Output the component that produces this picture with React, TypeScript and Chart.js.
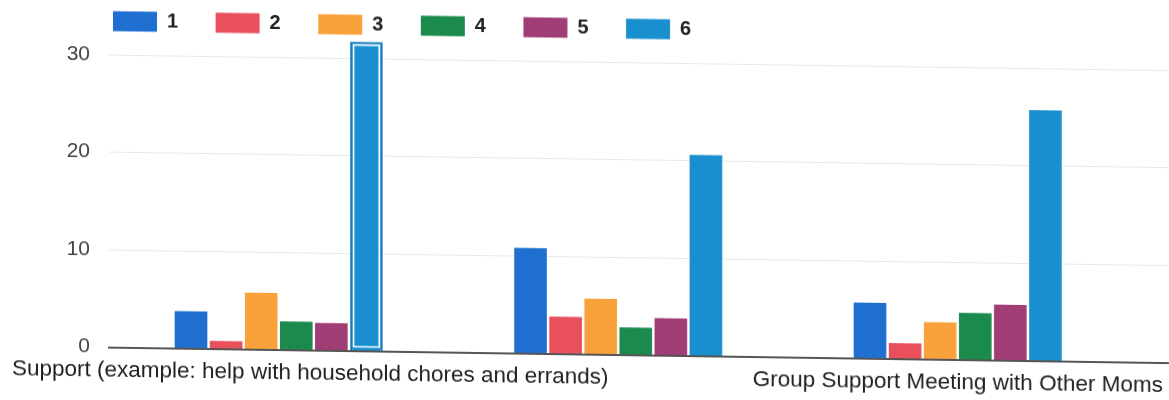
import React, { useEffect, useRef } from 'react';
import { Chart, registerables } from 'chart.js';

Chart.register(...registerables);

// Category labels (the middle group carries no label text)
const categories = [
  'Support (example: help with household chores and errands)',
  '',
  'Group Support Meeting with Other Moms',
];

const seriesNames = ['1', '2', '3', '4', '5', '6'];

const series1 = [3.8, 10.8, 5.7];
const series2 = [0.8, 3.8, 1.6];
const series3 = [5.8, 5.7, 3.8];
const series4 = [2.9, 2.8, 4.8];
const series5 = [2.8, 3.8, 5.7];
const series6 = [31.7, 20.6, 25.7];

const yTicks = [0, 10, 20, 30];

const seriesColors = ['#1f6fd1', '#e8505b', '#f9a23c', '#1b8a4c', '#a13d75', '#1a8fcf'];

// Bar shown in its focused state (dataset index, category index)
const focused = { dataset: 5, index: 0 };

const FONT = "'Liberation Sans', Arial, sans-serif";

const legendPlugin = {
  id: 'topLegend',
  afterDraw(chart: any) {
    const { ctx, chartArea } = chart;
    const boxW = 44;
    const boxH = 20;
    const gap = 10;
    const spacing = 37.5;
    const cy = 19.5;
    let x = chartArea.left + 4;
    ctx.save();
    ctx.font = `bold 20px ${FONT}`;
    ctx.textBaseline = 'middle';
    ctx.textAlign = 'left';
    chart.data.datasets.forEach((ds: any) => {
      ctx.fillStyle = ds.backgroundColor;
      ctx.fillRect(x, cy - boxH / 2, boxW, boxH);
      ctx.fillStyle = '#222';
      ctx.fillText(ds.label, x + boxW + gap, cy);
      x += boxW + gap + ctx.measureText(ds.label).width + spacing;
    });
    ctx.restore();
  },
};

const categoryLabelPlugin = {
  id: 'categoryLabels',
  afterDraw(chart: any) {
    const { ctx, chartArea, width } = chart;
    const scale = chart.scales.x;
    const margin = 12;
    ctx.save();
    ctx.font = `22.5px ${FONT}`;
    ctx.fillStyle = '#1e1e1e';
    ctx.textBaseline = 'middle';
    ctx.textAlign = 'left';
    const y = chartArea.bottom + 23;
    categories.forEach((label, i) => {
      if (!label) return;
      const w = ctx.measureText(label).width;
      const cx = scale.getPixelForValue(i);
      let left = cx - w / 2;
      left = Math.max(left, margin);
      left = Math.min(left, width - margin / 2 - w);
      ctx.fillText(label, left, y);
    });
    ctx.restore();
  },
};

const focusRingPlugin = {
  id: 'focusRing',
  afterDatasetsDraw(chart: any) {
    const meta = chart.getDatasetMeta(focused.dataset);
    const bar: any = meta.data[focused.index];
    if (!bar) return;
    const { x, y, base, width } = bar;
    const ctx = chart.ctx;
    ctx.save();
    ctx.strokeStyle = '#ffffff';
    ctx.lineWidth = 1.5;
    ctx.strokeRect(x - width / 2 + 3.5, y + 3.5, width - 7, base - y - 7);
    ctx.restore();
  },
};

export default function App() {
  const canvasRef = useRef<HTMLCanvasElement | null>(null);

  useEffect(() => {
    if (!canvasRef.current) return;
    const allSeries = [series1, series2, series3, series4, series5, series6];
    const chart = new Chart(canvasRef.current, {
      type: 'bar',
      data: {
        datasets: allSeries.map((values, di) => ({
          label: seriesNames[di],
          data: values.map((v, i) => ({ x: i, y: v })),
          backgroundColor: seriesColors[di],
          borderColor: '#1379b8',
          borderWidth: (c: any) =>
            c.datasetIndex === focused.dataset && c.dataIndex === focused.index ? 2 : 0,
        })),
      },
      plugins: [legendPlugin, categoryLabelPlugin, focusRingPlugin],
      options: {
        responsive: false,
        animation: false,
        events: [],
        layout: { padding: { top: 33.5, left: 0, right: 0, bottom: 0 } },
        datasets: { bar: { categoryPercentage: 0.62, barPercentage: 0.93 } },
        plugins: { legend: { display: false }, tooltip: { enabled: false } },
        scales: {
          x: {
            type: 'linear',
            min: -0.5,
            max: 2.622,
            offset: false,
            ticks: { display: false, stepSize: 1, includeBounds: false },
            grid: { display: false },
            border: { display: true, color: '#555', width: 2 },
            afterFit: (s: any) => {
              s.height = 54.5;
              s.paddingLeft = 0;
              s.paddingRight = 0;
            },
          },
          y: {
            min: 0,
            max: 32,
            afterBuildTicks: (s: any) => {
              s.ticks = yTicks.map((value) => ({ value }));
            },
            ticks: { font: { family: FONT, size: 21 }, color: '#444', padding: 19 },
            grid: { color: '#e9e9e9', drawTicks: false, lineWidth: 1 },
            border: { display: false },
            afterFit: (s: any) => {
              s.width = 109;
              s.paddingTop = 0;
              s.paddingBottom = 0;
            },
          },
        },
      } as any,
    });
    return () => chart.destroy();
  }, []);

  return (
    <div
      style={{
        position: 'fixed',
        left: 0,
        top: 0,
        width: 1169,
        height: 400,
        background: '#fff',
        transform: 'skewY(0.84deg)',
        transformOrigin: '0 0',
      }}
    >
      <canvas ref={canvasRef} width={1169} height={400} style={{ display: 'block' }} />
    </div>
  );
}
